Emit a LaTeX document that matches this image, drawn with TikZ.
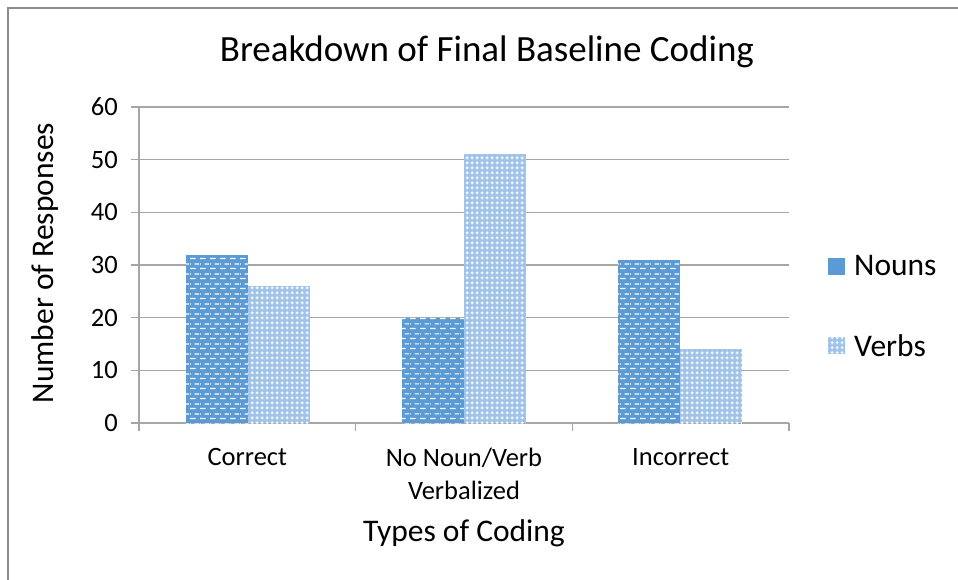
\documentclass[tikz,border=0pt]{standalone}
\usepackage{fontspec}
\setmainfont{Carlito}
\usetikzlibrary{patterns}
\definecolor{nounblue}{HTML}{5B9BD5}
\definecolor{verbblue}{HTML}{9EC2E8}
\definecolor{gridgray}{HTML}{A6A6A6}
\definecolor{framegray}{HTML}{8C8C8C}
\pgfdeclarepatternformonly{ndash}{\pgfqpoint{0pt}{0pt}}{\pgfqpoint{10pt}{10pt}}{\pgfqpoint{10pt}{10pt}}{%
 \pgfpathrectangle{\pgfqpoint{0pt}{1pt}}{\pgfqpoint{6pt}{1.3pt}}%
 \pgfpathrectangle{\pgfqpoint{5pt}{6pt}}{\pgfqpoint{5pt}{1.3pt}}%
 \pgfpathrectangle{\pgfqpoint{0pt}{6pt}}{\pgfqpoint{1pt}{1.3pt}}%
 \pgfusepath{fill}}
\pgfdeclarepatternformonly{vplus}{\pgfqpoint{0pt}{0pt}}{\pgfqpoint{5pt}{5pt}}{\pgfqpoint{5pt}{5pt}}{%
 \pgfpathrectangle{\pgfqpoint{0.7pt}{2pt}}{\pgfqpoint{3.6pt}{1pt}}%
 \pgfpathrectangle{\pgfqpoint{2pt}{0.7pt}}{\pgfqpoint{1pt}{3.6pt}}%
 \pgfusepath{fill}}
\begin{document}
\begin{tikzpicture}[x=1pt,y=-1pt,
  nounbar/.style={fill=nounblue,postaction={pattern=ndash,pattern color=white}},
  verbbar/.style={fill=verbblue,postaction={pattern=vplus,pattern color=white}},
  gridline/.style={draw=gridgray,line width=1.4pt},
  ticklbl/.style={font=\fontsize{26.5}{30}\selectfont,inner sep=0pt},
  axtitle/.style={font=\fontsize{31.5}{36}\selectfont,inner sep=0pt},
  legtext/.style={font=\fontsize{31.5}{36}\selectfont,inner sep=0pt,anchor=west}]
\useasboundingbox (0,0) rectangle (958,580);
\draw[framegray,line width=1.5pt] (8,580) -- (8,8) -- (958,8);
% title
\node[font=\fontsize{37}{44}\selectfont,inner sep=0pt] (title) at (487,52) {Breakdown of Final Baseline Coding};
% gridlines and y ticks
\foreach \v/\yy in {0/423,10/370.33,20/317.67,30/265,40/212.33,50/159.67,60/107}{
  \draw[gridline] (131,\yy) -- (789,\yy);
  \node[ticklbl,anchor=east] (ylab\v) at (118,\yy) {\v};
}
\draw[gridline] (139,107) -- (139,423);
\foreach \xx in {139,355.67,572.33,789}{
  \draw[gridline] (\xx,423) -- (\xx,431);
}
% bars
\path[nounbar] (186,423) rectangle (248,254.5);
\path[verbbar] (248,423) rectangle (310,286.1);
\path[nounbar] (402,423) rectangle (464,317.7);
\path[verbbar] (464,423) rectangle (526,154.4);
\path[nounbar] (618,423) rectangle (680,259.7);
\path[verbbar] (680,423) rectangle (742,349.3);
% category labels
\node[ticklbl] (c1) at (247.3,457) {Correct};
\node[ticklbl,align=center,font=\fontsize{26.5}{33}\selectfont] (c2) at (464,473.5) {No Noun/Verb\\Verbalized};
\node[ticklbl] (c3) at (680.7,457) {Incorrect};
% axis titles
\node[axtitle] (xtitle) at (464,533) {Types of Coding};
\node[axtitle,rotate=90] (ytitle) at (45,263) {Number of Responses};
% legend
\path[fill=nounblue] (828,258) rectangle (845,275);
\node[legtext] (lnoun) at (854,266) {Nouns};
\path[verbbar] (828,337) rectangle (845,354);
\node[legtext] (lverb) at (854,346) {Verbs};
\end{tikzpicture}
\end{document}
